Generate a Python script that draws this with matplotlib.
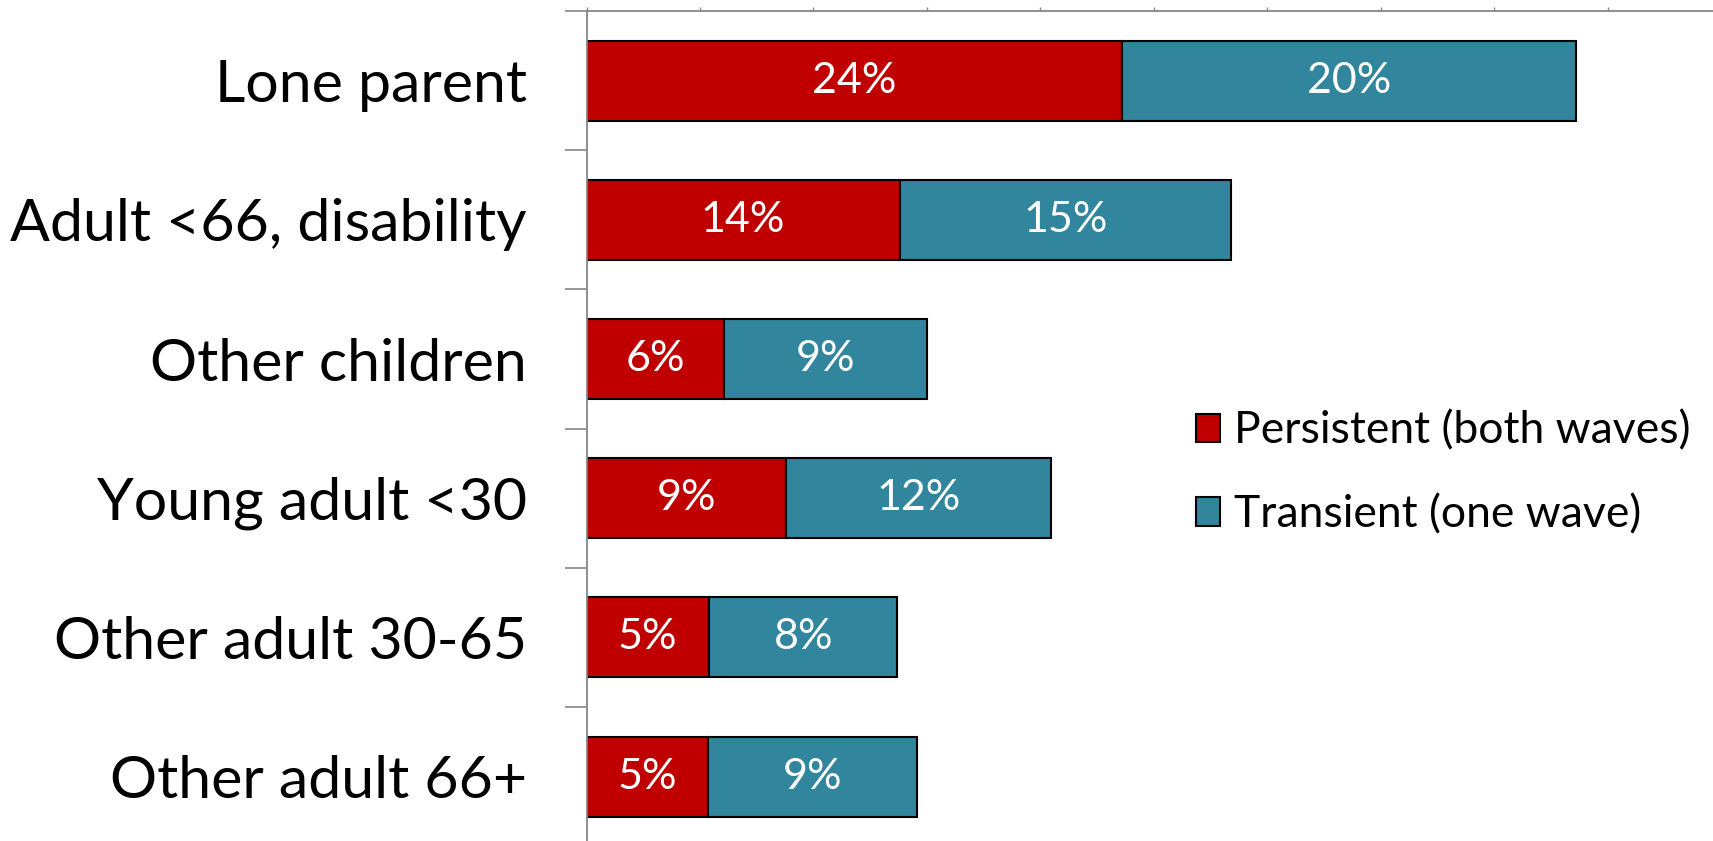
import matplotlib
matplotlib.use("Agg")
import matplotlib.pyplot as plt
import numpy as np

plt.rcParams['font.family'] = ['Lato', 'DejaVu Sans']

categories = ["Lone parent", "Adult <66, disability", "Other children",
              "Young adult <30", "Other adult 30-65", "Other adult 66+"]
persistent = [23.6, 13.8, 6.05, 8.8, 5.4, 5.35]
transient = [20.0, 14.6, 8.95, 11.65, 8.3, 9.2]
series_names = ["Persistent (both waves)", "Transient (one wave)"]
x_ticks = list(range(0, 55, 5))

RED = "#C00000"
TEAL = "#31859C"
GRAY = "#868686"

W, H = 1713, 841
fig = plt.figure(figsize=(W / 100, H / 100), dpi=100)
left_px, top_px = 586.5, 11.0
px_per_unit = 22.69
band_px = 139.2
ax_w = 50 * px_per_unit
ax_h = band_px * len(categories)
ax = fig.add_axes([left_px / W, 1 - (top_px + ax_h) / H, ax_w / W, ax_h / H])

y = np.arange(len(categories))
b1 = ax.barh(y, persistent, height=0.575, color=RED, edgecolor="black",
             linewidth=1.5, label=series_names[0])
b2 = ax.barh(y, transient, left=persistent, height=0.575, color=TEAL,
             edgecolor="black", linewidth=1.5, label=series_names[1])

ax.bar_label(b1, labels=[f"{round(v)}%" for v in persistent], label_type="center",
             color="white", fontsize=31)
ax.bar_label(b2, labels=[f"{round(v)}%" for v in transient], label_type="center",
             color="white", fontsize=31)

ax.set_xlim(0, 50)
ax.set_ylim(len(categories) - 0.5, -0.5)

ax.xaxis.tick_top()
ax.set_xticks(x_ticks)
ax.set_xticklabels([])
ax.tick_params(axis="x", which="major", length=3, width=1, color=GRAY, direction="out")

ax.set_yticks(y)
ax.set_yticklabels(categories, fontsize=42.5)
ax.tick_params(axis="y", which="major", length=0, pad=43)
ax.set_yticks(np.arange(-0.5, len(categories) + 0.5, 1), minor=True)
ax.tick_params(axis="y", which="minor", length=15.8, width=1.2, color=GRAY, direction="out")

for s in ["right", "bottom"]:
    ax.spines[s].set_visible(False)
for s in ["top", "left"]:
    ax.spines[s].set_color(GRAY)
    ax.spines[s].set_linewidth(1.3)

leg = fig.legend(handles=[b1, b2], loc="center left",
                 bbox_to_anchor=(1196 / W, 1 - 473 / H), frameon=False,
                 fontsize=32, handlelength=0.54, handleheight=0.61,
                 handletextpad=0.32, labelspacing=0.95, borderpad=0, borderaxespad=0)

fig.savefig("out.png", dpi=100)
